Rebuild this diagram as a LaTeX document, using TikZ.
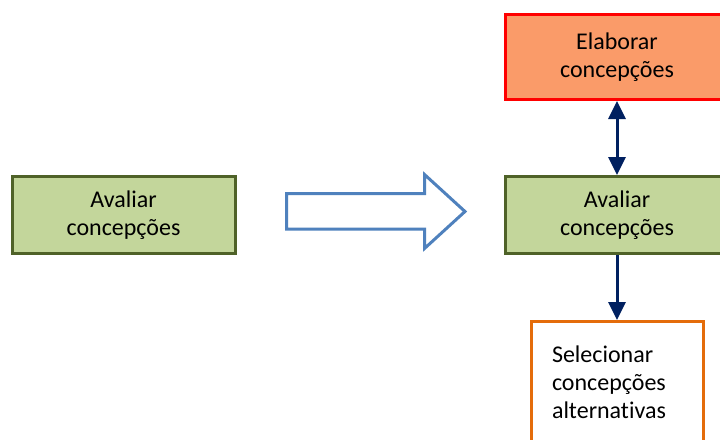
\documentclass[tikz,border=0pt]{standalone}
\usepackage{fontspec}
\setmainfont{Carlito}[Ligatures=NoCommon]
\usepackage{tikz}
\usetikzlibrary{arrows.meta,positioning}
\definecolor{gf}{HTML}{C3D69B}
\definecolor{gd}{HTML}{4F6228}
\definecolor{of}{HTML}{FA9B69}
\definecolor{rd}{HTML}{FF0000}
\definecolor{ob}{HTML}{E46C0A}
\definecolor{bl}{HTML}{4F81BD}
\definecolor{nv}{HTML}{002060}
\newcommand{\boxfont}{\fontsize{24}{28}\selectfont}

\begin{document}
\begin{tikzpicture}[x=1pt,y=-1pt,
  box/.style={draw, line width=3pt, minimum width=223pt, minimum height=77pt, align=center, font=\boxfont},
  evalbox/.style={box, draw=gd, fill=gf},
  elabbox/.style={box, draw=rd, fill=of, minimum height=85pt},
  selbox/.style={draw=ob, line width=3pt, fill=white, minimum width=172pt, minimum height=122pt,
    text width=130pt, align=left, font=\boxfont},
  link/.style={draw=nv, line width=3pt, -{Triangle[width=17pt,length=18pt]}}]
  \useasboundingbox (0,0) rectangle (720,439);
  \node[evalbox] (evalL) at (123.5,215) {Avaliar\\concepções};
  \node[evalbox] (evalR) at (617,215) {Avaliar\\concepções};
  \node[elabbox, above=74pt of evalR] (elab) {Elaborar\\concepções};
  \node[selbox, below=65pt of evalR] (sel) {Selecionar\\concepções\\alternativas};
  \draw[bl, line width=3pt, fill=white, line join=miter]
    (286.5,193.5) -- (424.5,193.5) -- (424.5,174.5) -- (465,211.5)
    -- (424.5,248.5) -- (424.5,229) -- (286.5,229) -- cycle;
  \draw[link, {Triangle[width=17pt,length=18pt]}-{Triangle[width=17pt,length=18pt]}] (elab) -- (evalR);
  \draw[link] (evalR) -- (sel);
\end{tikzpicture}
\end{document}
